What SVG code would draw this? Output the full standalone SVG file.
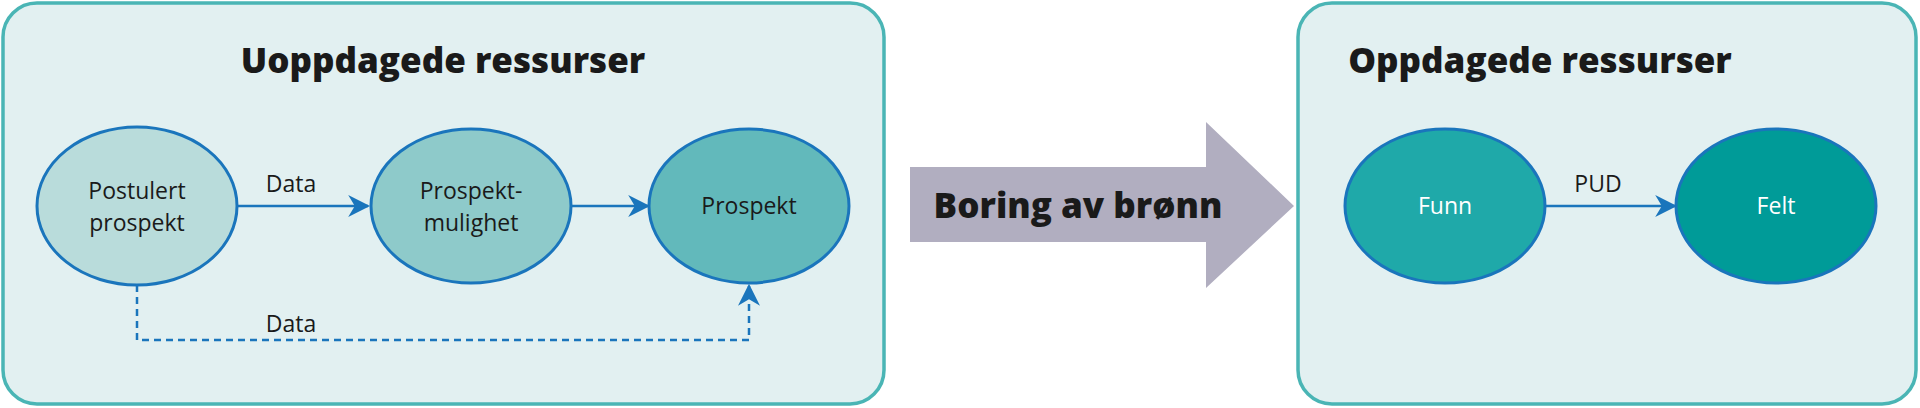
<svg xmlns="http://www.w3.org/2000/svg" width="1920" height="408" viewBox="0 0 1920 408">
<style>
.panel{fill:#e2f0f1;stroke:#4ab5b5;stroke-width:3.5}
.title{font-family:"Open Sans","Liberation Sans",sans-serif;font-weight:800;font-size:35px;fill:#1a1a1a;text-anchor:middle}
.node{stroke:#1a75bc;stroke-width:3}
.lbl{font-family:"Open Sans","Liberation Sans",sans-serif;font-size:23px;fill:#1a1a1a;text-anchor:middle}
.w{fill:#ffffff}
.con{stroke:#1a75bc;stroke-width:2.5;fill:none}
</style>
<defs>
<marker id="ah2" viewBox="0 0 10 10" refX="9" refY="5" markerWidth="22" markerHeight="22" markerUnits="userSpaceOnUse" orient="auto"><path d="M0,0 L10,5 L0,10 L3,5 z" fill="#1a75bc"/></marker>
</defs>
<g id="panel-left"><rect class="panel" x="3" y="3" width="881" height="401" rx="34"/><text class="title" x="443" y="73">Uoppdagede ressurser</text></g>
<g id="panel-right"><rect class="panel" x="1298" y="3" width="618" height="401" rx="34"/><text class="title" x="1540" y="73">Oppdagede ressurser</text></g>
<g id="big-arrow"><path d="M910,167 H1206 V122 L1294,206 L1206,288 V242 H910 Z" fill="#b1aec0"/><text x="1078" y="218" font-family="'Open Sans','Liberation Sans',sans-serif" font-weight="800" font-size="35" fill="#1a1a1a" text-anchor="middle">Boring av brønn</text></g>
<g id="n1"><ellipse class="node" cx="137" cy="206" rx="100" ry="79" fill="#b9dcdb"/><text class="lbl" x="137" y="199">Postulert</text><text class="lbl" x="137" y="231">prospekt</text></g>
<g id="n2"><ellipse class="node" cx="471" cy="206" rx="100" ry="77" fill="#8ecaca"/><text class="lbl" x="471" y="199">Prospekt-</text><text class="lbl" x="471" y="231">mulighet</text></g>
<g id="n3"><ellipse class="node" cx="749" cy="206" rx="100" ry="77" fill="#62b9bb"/><text class="lbl" x="749" y="214">Prospekt</text></g>
<g id="n4"><ellipse class="node" cx="1445" cy="206" rx="100" ry="77" fill="#1fa9a9"/><text class="lbl w" x="1445" y="214">Funn</text></g>
<g id="n5"><ellipse class="node" cx="1776" cy="206" rx="100" ry="77" fill="#009b98"/><text class="lbl w" x="1776" y="214">Felt</text></g>
<g id="connectors">
<line class="con" x1="237" y1="206" x2="368" y2="206" marker-end="url(#ah2)"/>
<line class="con" x1="571" y1="206" x2="648" y2="206" marker-end="url(#ah2)"/>
<line class="con" x1="1545" y1="206" x2="1675" y2="206" marker-end="url(#ah2)"/>
<path class="con" d="M137,285 V340 H749 V286" stroke-dasharray="7,5" marker-end="url(#ah2)"/>
<text class="lbl" x="291" y="192" font-size="25">Data</text>
<text class="lbl" x="291" y="332" font-size="25">Data</text>
<text class="lbl" x="1598" y="192" font-size="25">PUD</text>
</g>
</svg>
